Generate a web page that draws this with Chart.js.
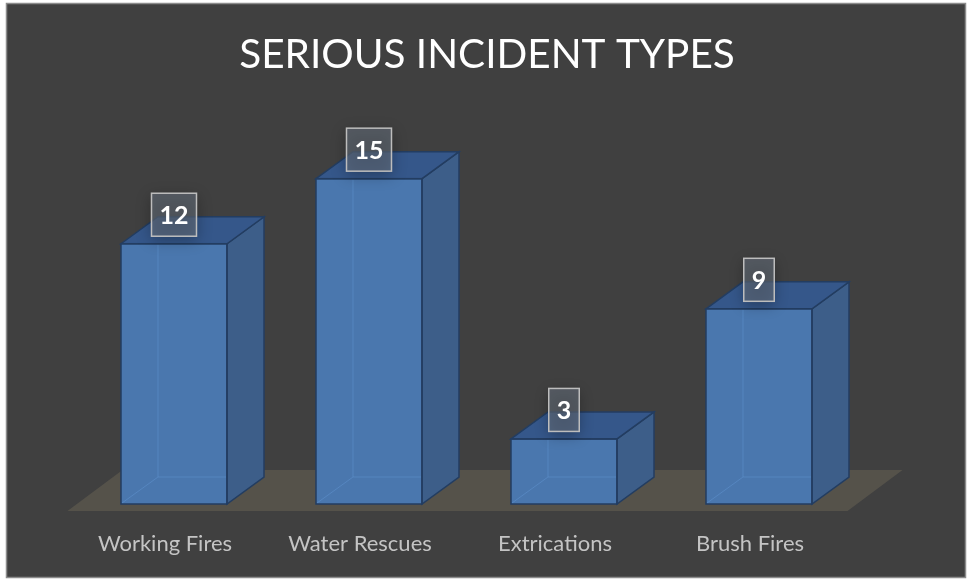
<!DOCTYPE html>
<html>
<head>
<meta charset="utf-8">
<script src="https://cdn.jsdelivr.net/npm/chart.js@4"></script>
<style>
html,body{margin:0;padding:0;background:#ffffff;}
#wrap{position:absolute;left:0;top:0;width:969px;height:579px;}
</style>
</head>
<body>
<div id="wrap"><canvas id="c"></canvas></div>
<script>
const categories = ["Working Fires", "Water Rescues", "Extrications", "Brush Fires"];
const incidentCounts = [12, 15, 3, 9];
const chartTitle = "SERIOUS INCIDENT TYPES";

const DX = 37, DY = 27;

const frame = {
  id: 'frame',
  beforeDraw(chart) {
    const ctx = chart.ctx;
    ctx.save();
    ctx.fillStyle = '#ffffff';
    ctx.fillRect(0, 0, chart.width, chart.height);
    ctx.fillStyle = '#404040';
    ctx.fillRect(6, 3, 960, 575);
    ctx.strokeStyle = '#8c8c8c';
    ctx.lineWidth = 1.5;
    ctx.strokeRect(6.5, 3.5, 959, 574);
    ctx.restore();
  },
  beforeDatasetsDraw(chart) {
    const ctx = chart.ctx, a = chart.chartArea;
    const yb = chart.scales.y.getPixelForValue(0);
    const fy = yb + 7;
    ctx.save();
    ctx.fillStyle = '#55524a';
    ctx.beginPath();
    ctx.moveTo(a.left - 9, fy);
    ctx.lineTo(a.right - 9, fy);
    ctx.lineTo(a.right + 46, fy - 41);
    ctx.lineTo(a.left + 46, fy - 41);
    ctx.closePath();
    ctx.fill();
    ctx.restore();
  },
  afterDatasetsDraw(chart) {
    const ctx = chart.ctx;
    const meta = chart.getDatasetMeta(0);
    ctx.save();
    meta.data.forEach((bar, i) => {
      const p = bar.getProps(['x', 'y', 'base', 'width'], true);
      const l = p.x - p.width / 2, r = p.x + p.width / 2, t = p.y, b = p.base;
      ctx.strokeStyle = 'rgba(95,145,205,0.55)';
      ctx.lineWidth = 1;
      ctx.beginPath();
      ctx.moveTo(l + DX, t - DY + 1); ctx.lineTo(l + DX, b - DY);
      ctx.lineTo(r, b - DY);
      ctx.moveTo(l + 1, b - 1); ctx.lineTo(l + DX, b - DY);
      ctx.stroke();
      ctx.fillStyle = '#3d5e89';
      ctx.strokeStyle = '#233d61';
      ctx.lineWidth = 1.5;
      ctx.beginPath();
      ctx.moveTo(r, t); ctx.lineTo(r + DX, t - DY); ctx.lineTo(r + DX, b - DY); ctx.lineTo(r, b);
      ctx.closePath(); ctx.fill(); ctx.stroke();
      ctx.fillStyle = '#35578a';
      ctx.beginPath();
      ctx.moveTo(l, t); ctx.lineTo(l + DX, t - DY); ctx.lineTo(r + DX, t - DY); ctx.lineTo(r, t);
      ctx.closePath(); ctx.fill(); ctx.stroke();
      ctx.strokeRect(l, t, p.width, b - t);
    });
    meta.data.forEach((bar, i) => {
      const p = bar.getProps(['x', 'y'], true);
      const txt = String(incidentCounts[i]);
      ctx.font = 'bold 25px Lato';
      const w = ctx.measureText(txt).width + 16, h = 43;
      const cx = p.x, cy = p.y - 29;
      ctx.save();
      ctx.shadowColor = 'rgba(0,0,0,0.55)';
      ctx.shadowBlur = 14;
      ctx.shadowOffsetY = 4;
      ctx.fillStyle = 'rgba(70,80,95,0.55)';
      ctx.fillRect(cx - w / 2, cy - h / 2, w, h);
      ctx.restore();
      ctx.fillStyle = 'rgba(255,255,255,0.10)';
      ctx.fillRect(cx - w / 2, cy - h / 2, w, h);
      ctx.strokeStyle = '#bdbdbd';
      ctx.lineWidth = 1.5;
      ctx.strokeRect(cx - w / 2, cy - h / 2, w, h);
      ctx.fillStyle = '#ffffff';
      ctx.textAlign = 'center';
      ctx.textBaseline = 'middle';
      ctx.fillText(txt, cx, cy + 1);
    });
    ctx.restore();
  }
};

new Chart(document.getElementById('c'), {
  type: 'bar',
  data: {
    labels: categories,
    datasets: [{
      data: incidentCounts,
      backgroundColor: '#4a77ae',
      borderWidth: 0,
      categoryPercentage: 1,
      barPercentage: 0.5436
    }]
  },
  options: {
    responsive: true,
    maintainAspectRatio: false,
    animation: false,
    devicePixelRatio: 1,
    layout: { padding: { left: 5, right: 0, top: 0, bottom: 0 } },
    plugins: {
      legend: { display: false },
      tooltip: { enabled: false },
      title: {
        display: true,
        text: chartTitle,
        color: '#ffffff',
        font: { family: 'Lato', size: 40.5, weight: 'normal' },
        padding: { top: 30.5, bottom: 34.5 }
      }
    },
    scales: {
      x: {
        grid: { display: false, drawTicks: false },
        border: { display: false },
        ticks: { color: '#c4c4c4', font: { family: 'Lato', size: 22 }, padding: 27, labelOffset: -9 },
        afterFit(scale) { scale.height = 75; }
      },
      y: {
        display: true,
        min: 0,
        max: 18,
        grid: { display: false, drawTicks: false },
        border: { display: false },
        ticks: { display: false },
        afterFit(scale) { scale.width = 71.5; }
      },
      y2: {
        display: true,
        position: 'right',
        grid: { display: false, drawTicks: false },
        border: { display: false },
        ticks: { display: false },
        afterFit(scale) { scale.width = 112.5; }
      }
    }
  },
  plugins: [frame]
});
</script>
</body>
</html>
